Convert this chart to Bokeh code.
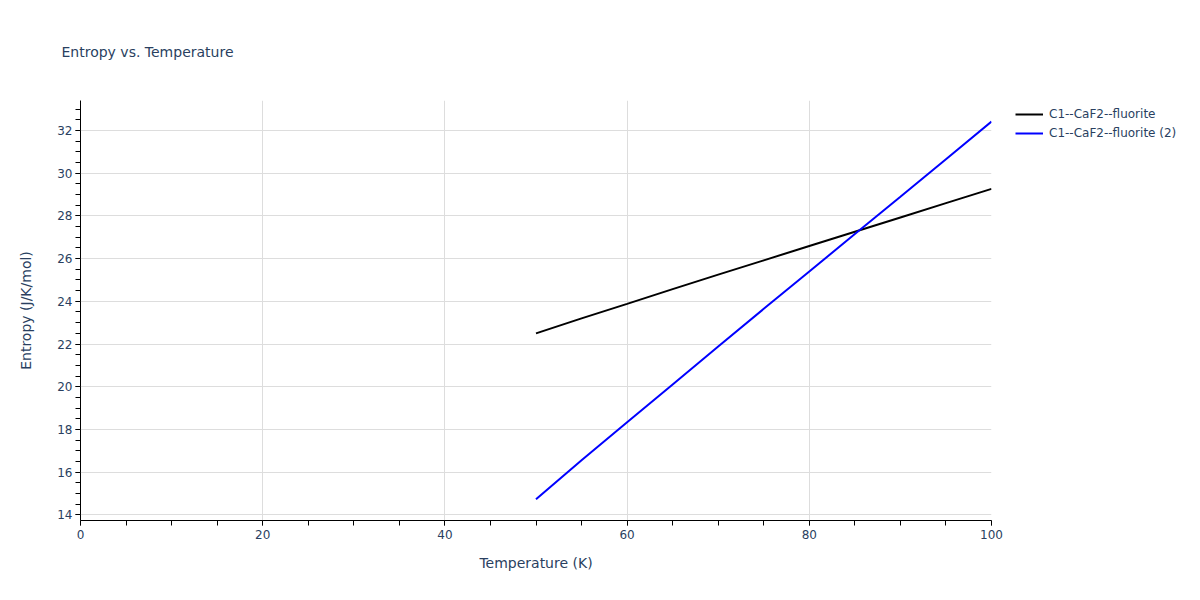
from bokeh.plotting import figure
from bokeh.models import Range1d, SingleIntervalTicker, Legend, LegendItem, Title
from bokeh.embed import file_html
from bokeh.resources import INLINE

temperature = [50, 55, 60, 65, 70, 75, 80, 85, 90, 95, 100]
entropy_1 = [22.50, 23.20, 23.88, 24.57, 25.25, 25.92, 26.59, 27.26, 27.93, 28.60, 29.27]
entropy_2 = [14.73, 16.55, 18.33, 20.10, 21.88, 23.65, 25.40, 27.15, 28.90, 30.66, 32.42]
series_names = ["C1--CaF2--fluorite", "C1--CaF2--fluorite (2)"]

FONT = "DejaVu Sans"
TXT = "#2a3f5f"

p = figure(frame_width=911, frame_height=420, output_backend="svg", toolbar_location=None,
           x_range=Range1d(0, 100), y_range=Range1d(13.73, 33.41),
           min_border_left=80, min_border_right=0, min_border_top=100, min_border_bottom=80)
p.outline_line_color = None
p.background_fill_color = "white"

t = Title(text="Entropy vs. Temperature", align="left", offset=-19,
          text_font=FONT, text_font_size="14px", text_color=TXT, text_font_style="normal",
          standoff=81)
p.add_layout(t, "above")

p.xaxis.ticker = SingleIntervalTicker(interval=20, num_minor_ticks=4)
p.yaxis.ticker = SingleIntervalTicker(interval=2, num_minor_ticks=4)

for ax in (p.xaxis, p.yaxis):
    ax.axis_line_color = "black"
    ax.axis_line_width = 1
    ax.major_tick_line_color = "#444444"
    ax.minor_tick_line_color = "black"
    ax.major_tick_out = 5
    ax.major_tick_in = 0
    ax.minor_tick_out = 5
    ax.minor_tick_in = 0
    ax.major_label_text_font = FONT
    ax.major_label_text_font_size = "12px"
    ax.major_label_text_color = TXT
    ax.axis_label_text_font = FONT
    ax.axis_label_text_font_size = "14px"
    ax.axis_label_text_color = TXT
    ax.axis_label_text_font_style = "normal"

p.xaxis.axis_label = "Temperature (K)"
p.yaxis.axis_label = "Entropy (J/K/mol)"
p.xaxis.major_label_standoff = 4
p.yaxis.major_label_standoff = 3
p.xaxis.axis_label_standoff = 13
p.yaxis.axis_label_standoff = 20

p.xgrid.grid_line_color = "#dddddd"
p.ygrid.grid_line_color = "#dddddd"
p.xgrid.grid_line_width = 1
p.ygrid.grid_line_width = 1

r1 = p.line(temperature, entropy_1, line_color="black", line_width=2)
r2 = p.line(temperature, entropy_2, line_color="blue", line_width=2)

legend = Legend(items=[LegendItem(label=series_names[0], renderers=[r1]),
                       LegendItem(label=series_names[1], renderers=[r2])],
                location="top_left", margin=0, padding=6, spacing=3,
                title=" ", title_location="left", title_text_font_size="1px", title_standoff=17,
                glyph_width=28, glyph_height=16, label_height=16, label_standoff=6,
                label_text_font=FONT, label_text_font_size="12px", label_text_color=TXT,
                border_line_alpha=0, background_fill_alpha=0)
p.add_layout(legend, "right")

open("out.html", "w").write(file_html(p, INLINE))
